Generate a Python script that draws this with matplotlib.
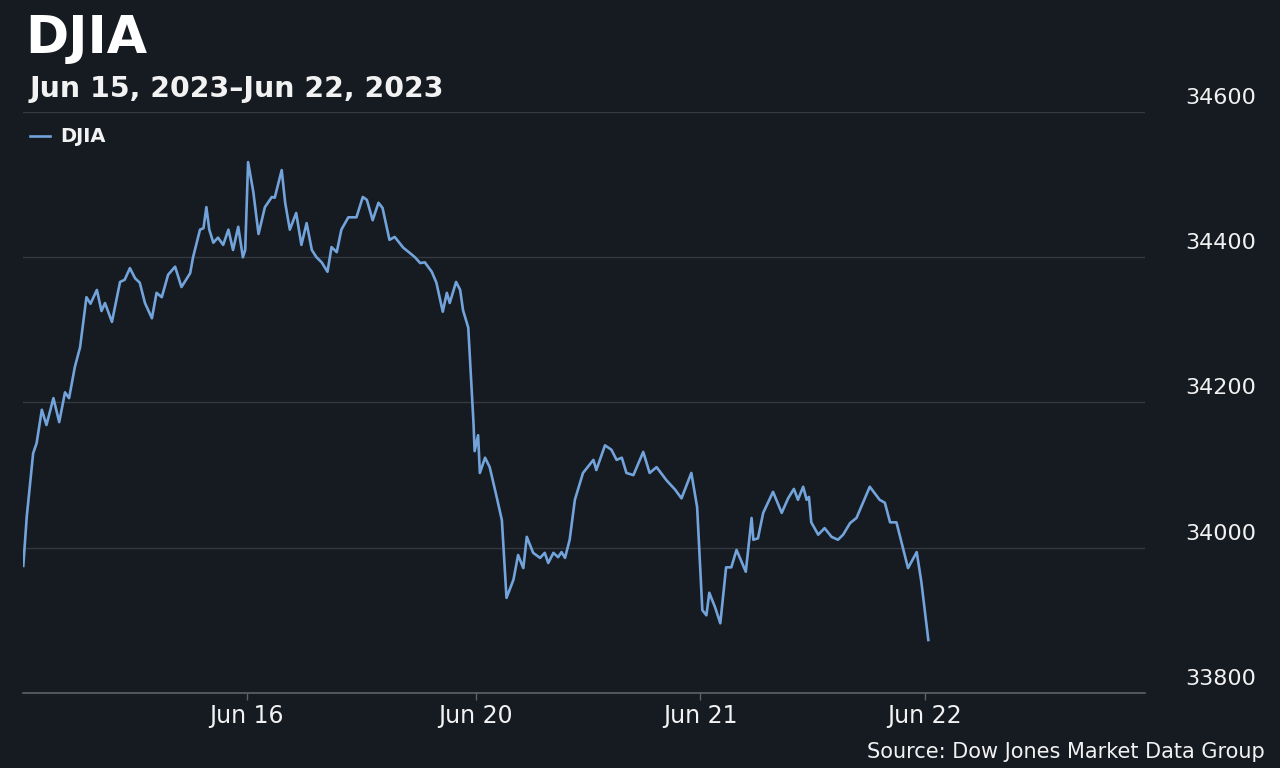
import matplotlib
matplotlib.use('Agg')
import matplotlib.pyplot as plt
import matplotlib.transforms as mtransforms

# ── Data (trading minutes since Jun 15 open, index level) ─────────
MINUTES = [4, 10, 21, 27, 36, 44, 56, 66, 76, 83, 93, 102, 113, 120, 131,
           139, 145, 157, 171, 179, 188, 197, 205, 214, 226, 234, 243, 254,
           266, 277, 292, 297, 309, 315, 320, 325, 332, 340, 349, 358, 366,
           375, 383, 387, 392, 401, 410, 421, 433, 438, 450, 456, 464, 475,
           484, 493, 502, 510, 519, 529, 536, 545, 553, 565, 579, 590, 597,
           607, 617, 624, 636, 645, 660, 671, 680, 689, 697, 709, 717, 728,
           735, 740, 751, 758, 763, 772, 781, 783, 789, 792, 801, 809, 821,
           830, 838, 850, 858, 867, 873, 884, 896, 904, 910, 919, 927, 933,
           939, 947, 956, 970, 988, 993, 1008, 1019, 1028, 1037, 1045, 1057,
           1074, 1085, 1097, 1114, 1129, 1140, 1157, 1167, 1176, 1183, 1188,
           1198, 1207, 1217, 1226, 1235, 1251, 1261, 1264, 1272, 1281, 1298,
           1313, 1324, 1334, 1341, 1350, 1356, 1360, 1364, 1376, 1387, 1399,
           1410, 1419, 1431, 1442, 1465, 1482, 1491, 1500, 1511, 1531, 1546,
           1554, 1566]
VALUES = [33975, 34043, 34130, 34144, 34190, 34169, 34206, 34173, 34214,
          34206, 34249, 34276, 34345, 34336, 34355, 34326, 34337, 34311,
          34366, 34369, 34385, 34371, 34365, 34337, 34316, 34351, 34345,
          34376, 34387, 34359, 34378, 34400, 34438, 34440, 34469, 34438,
          34420, 34427, 34417, 34438, 34410, 34442, 34400, 34410, 34531,
          34490, 34432, 34469, 34483, 34482, 34520, 34475, 34438, 34461,
          34417, 34447, 34410, 34400, 34393, 34380, 34414, 34407, 34438,
          34455, 34455, 34483, 34479, 34451, 34475, 34468, 34424, 34428,
          34413, 34406, 34400, 34392, 34393, 34380, 34365, 34325, 34351,
          34337, 34366, 34355, 34327, 34303, 34172, 34133, 34155, 34103,
          34124, 34111, 34070, 34038, 33931, 33956, 33990, 33972, 34015,
          33993, 33986, 33993, 33979, 33993, 33987, 33994, 33986, 34011,
          34066, 34103, 34121, 34107, 34141, 34135, 34121, 34124, 34103,
          34100, 34132, 34103, 34111, 34093, 34080, 34068, 34103, 34056,
          33914, 33907, 33938, 33918, 33896, 33973, 33973, 33997, 33967,
          34041, 34011, 34013, 34048, 34077, 34048, 34068, 34081, 34066,
          34084, 34066, 34070, 34035, 34018, 34027, 34015, 34011, 34018,
          34034, 34041, 34084, 34066, 34062, 34035, 34035, 33972, 33994,
          33953, 33873]

X_TICKS = [390, 785, 1172, 1560]
X_LABELS = ['Jun 16', 'Jun 20', 'Jun 21', 'Jun 22']
Y_TICKS = [33800, 34000, 34200, 34400, 34600]
Y_LABELS = ['33800', '34000', '34200', '34400', '34600']

BG = '#161a21'
LINE = '#72a3da'
GRID = '#343941'
AXIS = '#5d6269'
TEXT = '#f2f2f2'

W, H = 1280, 768

fig = plt.figure(figsize=(12.8, 7.68), dpi=100, facecolor=BG)
ax = fig.add_axes([23 / W, 1 - 693 / H, (1145 - 23) / W, (693 - 112) / H])
ax.set_facecolor(BG)

ax.plot(MINUTES, VALUES, color=LINE, lw=1.9, solid_joinstyle='round',
        label='DJIA')

ax.set_xlim(3.5, 1940)
ax.set_ylim(33800, 34600)

ax.set_yticks(Y_TICKS)
ax.tick_params(axis='y', length=0, labelleft=False, labelright=False)
ax.grid(axis='y', color=GRID, lw=1)
ax.set_axisbelow(True)

ax.set_xticks(X_TICKS)
ax.set_xticklabels(X_LABELS)
ax.tick_params(axis='x', length=5, width=1, color=AXIS, colors=TEXT,
               labelsize=17, pad=3)
for lab in ax.get_xticklabels():
    lab.set_color(TEXT)

for side in ['left', 'right', 'top']:
    ax.spines[side].set_visible(False)
ax.spines['bottom'].set_color(AXIS)
ax.spines['bottom'].set_linewidth(1.2)

# y labels sit above their grid lines, on the right
trans = mtransforms.blended_transform_factory(fig.transFigure, ax.transData)
trans = trans + mtransforms.ScaledTranslation(0, 14 / 100, fig.dpi_scale_trans)
for v, lab in zip(Y_TICKS, Y_LABELS):
    ax.text(1221 / W, v, lab, transform=trans, ha='center', va='center',
            fontsize=16, color=TEXT, clip_on=False)

# titles
fig.text(25 / W, 1 - 53 / H, 'DJIA', fontsize=37.5, fontweight='bold',
         color='white', va='baseline', ha='left')
fig.text(30 / W, 1 - 97 / H, 'Jun 15, 2023\u2013Jun 22, 2023', fontsize=20.4,
         fontweight='bold', color=TEXT, va='baseline', ha='left')

leg = ax.legend(loc='center left', bbox_to_anchor=(30 / W, 1 - 137 / H),
                bbox_transform=fig.transFigure, frameon=False,
                borderpad=0, borderaxespad=0,
                handlelength=1.05, handletextpad=0.5,
                prop={'size': 14, 'weight': 'bold'})
for t in leg.get_texts():
    t.set_color(TEXT)

fig.text(1265 / W, 1 - 752 / H, 'Source: Dow Jones Market Data Group',
         fontsize=15, color=TEXT, ha='right', va='center')

fig.savefig('out.png', dpi=100, facecolor=BG)
